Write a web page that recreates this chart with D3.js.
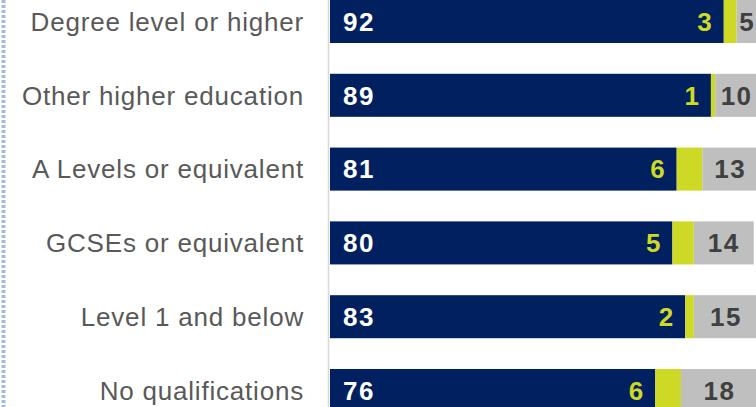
<!DOCTYPE html>
<html>
<head>
<meta charset="utf-8">
<script src="https://cdn.jsdelivr.net/npm/d3@7"></script>
<style>
  html, body { margin: 0; padding: 0; background: #ffffff; }
  svg { display: block; }
</style>
</head>
<body>
<svg id="chart" width="756" height="407"></svg>
<script>
const categories = [
  "Degree level or higher",
  "Other higher education",
  "A Levels or equivalent",
  "GCSEs or equivalent",
  "Level 1 and below",
  "No qualifications"
];
const navyValues   = [92, 89, 81, 80, 83, 76];
const yellowValues = [3, 1, 6, 5, 2, 6];
const greyValues   = [5, 10, 13, 14, 15, 18];

const colors = { navy: "#002060", yellow: "#cdd925", grey: "#bfbfbf" };

const svg = d3.select("#chart");
const W = 756, H = 407;

const x = d3.scaleLinear().domain([0, 100]).range([330, 758]);
const y = d3.scaleBand().domain(categories).range([-15.4, 427.4])
  .paddingInner(0.417).paddingOuter(0.2085);

// dotted left border
svg.append("line")
  .attr("x1", 3.5).attr("x2", 3.5).attr("y1", 0).attr("y2", H)
  .attr("stroke", "#a3bae2").attr("stroke-width", 4)
  .attr("stroke-dasharray", "3,2");

// vertical axis line
svg.append("line")
  .attr("x1", 328.5).attr("x2", 328.5).attr("y1", 0).attr("y2", H)
  .attr("stroke", "#d9d9d9").attr("stroke-width", 1.6);

const rows = categories.map((c, i) => ({
  cat: c, navy: navyValues[i], yellow: yellowValues[i], grey: greyValues[i]
}));

const g = svg.selectAll("g.row").data(rows).join("g").attr("class", "row");

g.append("rect")
  .attr("x", x(0)).attr("y", d => y(d.cat))
  .attr("width", d => x(d.navy) - x(0)).attr("height", y.bandwidth())
  .attr("fill", colors.navy);
g.append("rect")
  .attr("x", d => x(d.navy)).attr("y", d => y(d.cat))
  .attr("width", d => x(d.navy + d.yellow) - x(d.navy)).attr("height", y.bandwidth())
  .attr("fill", colors.yellow);
g.append("rect")
  .attr("x", d => x(d.navy + d.yellow)).attr("y", d => y(d.cat))
  .attr("width", d => x(d.navy + d.yellow + d.grey) - x(d.navy + d.yellow)).attr("height", y.bandwidth())
  .attr("fill", colors.grey);

// category labels
g.append("text")
  .attr("x", 304).attr("y", d => y(d.cat) + y.bandwidth() / 2)
  .attr("dy", "0.36em").attr("text-anchor", "end")
  .attr("font-family", "Liberation Sans, Arial, sans-serif")
  .attr("font-size", 26).attr("letter-spacing", "0.8px")
  .attr("fill", "#595959")
  .text(d => d.cat);

const valFont = "Liberation Sans, Arial, sans-serif";
// navy labels
g.append("text")
  .attr("x", x(0) + 13).attr("y", d => y(d.cat) + y.bandwidth() / 2)
  .attr("dy", "0.36em")
  .attr("font-family", valFont).attr("font-weight", "bold").attr("font-size", 26)
  .attr("letter-spacing", "1.5px")
  .attr("fill", "#ffffff")
  .text(d => d.navy);
// yellow labels
g.append("text")
  .attr("x", d => x(d.navy) - 12).attr("y", d => y(d.cat) + y.bandwidth() / 2)
  .attr("dy", "0.36em").attr("text-anchor", "end")
  .attr("font-family", valFont).attr("font-weight", "bold").attr("font-size", 26)
  .attr("fill", colors.yellow)
  .text(d => d.yellow);
// grey labels
g.append("text")
  .attr("x", d => (x(d.navy + d.yellow) + x(d.navy + d.yellow + d.grey)) / 2)
  .attr("y", d => y(d.cat) + y.bandwidth() / 2)
  .attr("dy", "0.36em").attr("text-anchor", "middle")
  .attr("font-family", valFont).attr("font-weight", "bold").attr("font-size", 26)
  .attr("letter-spacing", "1.5px")
  .attr("fill", "#404040")
  .text(d => d.grey);
</script>
</body>
</html>
